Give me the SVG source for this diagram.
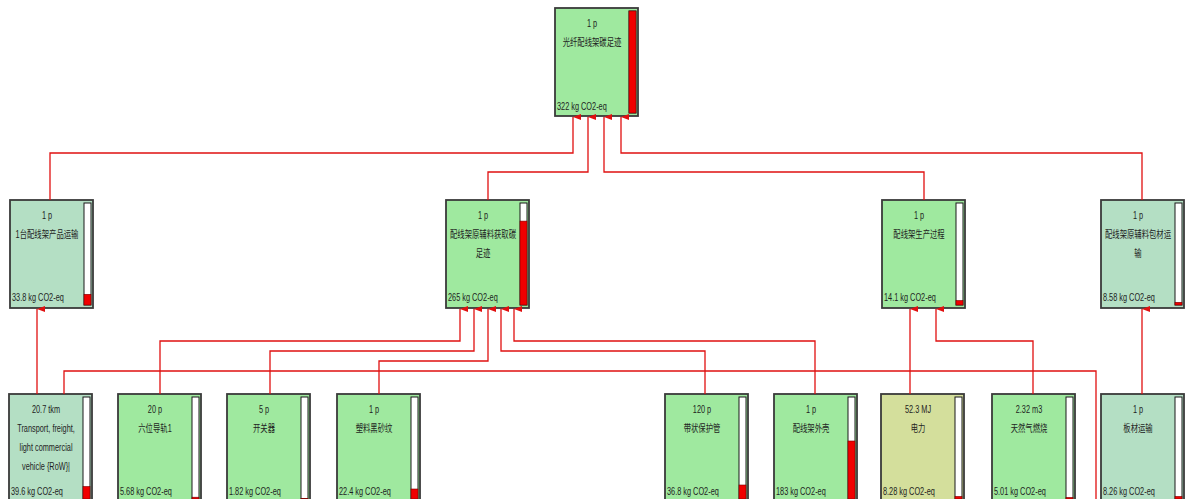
<svg xmlns="http://www.w3.org/2000/svg" width="1185" height="499" viewBox="0 0 1185 499">
<style>
.box{stroke:#3a3a3a;stroke-width:1.8}
.g1{fill:#9fe99f}
.g2{fill:#b4dfc4}
.g3{fill:#d4df9c}
.bar{fill:#ffffff;stroke:#1a1a1a;stroke-width:1}
.red{fill:#f00000;stroke:#7a0000;stroke-width:0.6}
text{font-family:"Liberation Sans","Noto Sans CJK SC",sans-serif;font-size:10.5px;fill:#1e1e1e}
.c{text-anchor:middle}
.conn{fill:none;stroke:#e01010;stroke-width:1.3}
</style>
<defs>
<marker id="arr" markerUnits="userSpaceOnUse" markerWidth="6" markerHeight="8" viewBox="0 0 6 8" refX="3" refY="0" orient="auto-start-reverse">
<path d="M0,8 L3,0 L6,8 Z" fill="#e01010"/>
</marker>
</defs>
<rect width="1185" height="499" fill="#ffffff"/>

<g id="node-top">
<rect class="box g1" x="555" y="8" width="83" height="108"/>
<rect class="bar" x="629" y="11" width="7" height="102"/>
<rect class="red" x="629" y="11" width="7" height="102"/>
<text class="c" transform="translate(592,27) scale(0.7,1)">1 p</text>
<text class="c" transform="translate(592,46) scale(0.7,1)">光纤配线架碳足迹</text>
<text transform="translate(557,110) scale(0.7,1)">322 kg CO2-eq</text>
</g>

<g id="node-transport-product">
<rect class="box g2" x="10" y="200" width="83" height="108"/>
<rect class="bar" x="84" y="203" width="7" height="102"/>
<rect class="red" x="84" y="294.3" width="7" height="10.7"/>
<text class="c" transform="translate(47,219) scale(0.7,1)">1 p</text>
<text class="c" transform="translate(47,238) scale(0.7,1)">1台配线架产品运输</text>
<text transform="translate(12,301) scale(0.7,1)">33.8 kg CO2-eq</text>
</g>

<g id="node-raw-material">
<rect class="box g1" x="446" y="200" width="83" height="108"/>
<rect class="bar" x="520" y="203" width="7" height="102"/>
<rect class="red" x="520" y="221.1" width="7" height="83.9"/>
<text class="c" transform="translate(483,219) scale(0.7,1)">1 p</text>
<text class="c" transform="translate(483,238) scale(0.7,1)">配线架原辅料获取碳</text>
<text class="c" transform="translate(483,257) scale(0.7,1)">足迹</text>
<text transform="translate(448,301) scale(0.7,1)">265 kg CO2-eq</text>
</g>

<g id="node-production">
<rect class="box g1" x="882" y="200" width="83" height="108"/>
<rect class="bar" x="956" y="203" width="7" height="102"/>
<rect class="red" x="956" y="300.5" width="7" height="4.5"/>
<text class="c" transform="translate(919,219) scale(0.7,1)">1 p</text>
<text class="c" transform="translate(919,238) scale(0.7,1)">配线架生产过程</text>
<text transform="translate(884,301) scale(0.7,1)">14.1 kg CO2-eq</text>
</g>

<g id="node-packaging-transport">
<rect class="box g2" x="1101" y="200" width="83" height="108"/>
<rect class="bar" x="1175" y="203" width="7" height="102"/>
<rect class="red" x="1175" y="302.3" width="7" height="2.7"/>
<text class="c" transform="translate(1138,219) scale(0.7,1)">1 p</text>
<text class="c" transform="translate(1138,238) scale(0.7,1)">配线架原辅料包材运</text>
<text class="c" transform="translate(1138,257) scale(0.7,1)">输</text>
<text transform="translate(1103,301) scale(0.7,1)">8.58 kg CO2-eq</text>
</g>

<g id="node-transport-freight">
<rect class="box g2" x="9" y="394" width="83" height="108"/>
<rect class="bar" x="83" y="397" width="7" height="102"/>
<rect class="red" x="83" y="486.5" width="7" height="12.5"/>
<text class="c" transform="translate(46,413) scale(0.7,1)">20.7 tkm</text>
<text class="c" transform="translate(46,432) scale(0.7,1)">Transport, freight,</text>
<text class="c" transform="translate(46,451) scale(0.7,1)">light commercial</text>
<text class="c" transform="translate(46,470) scale(0.7,1)">vehicle {RoW}|</text>
<text transform="translate(11,495) scale(0.7,1)">39.6 kg CO2-eq</text>
</g>

<g id="node-rail">
<rect class="box g1" x="118" y="394" width="83" height="108"/>
<rect class="bar" x="192" y="397" width="7" height="102"/>
<rect class="red" x="192" y="497.2" width="7" height="1.8"/>
<text class="c" transform="translate(155,413) scale(0.7,1)">20 p</text>
<text class="c" transform="translate(155,432) scale(0.7,1)">六位导轨1</text>
<text transform="translate(120,495) scale(0.7,1)">5.68 kg CO2-eq</text>
</g>

<g id="node-switch">
<rect class="box g1" x="227" y="394" width="83" height="108"/>
<rect class="bar" x="301" y="397" width="7" height="102"/>
<rect class="red" x="301" y="498.4" width="7" height="0.6"/>
<text class="c" transform="translate(264,413) scale(0.7,1)">5 p</text>
<text class="c" transform="translate(264,432) scale(0.7,1)">开关器</text>
<text transform="translate(229,495) scale(0.7,1)">1.82 kg CO2-eq</text>
</g>

<g id="node-plastic">
<rect class="box g1" x="337" y="394" width="83" height="108"/>
<rect class="bar" x="411" y="397" width="7" height="102"/>
<rect class="red" x="411" y="489" width="7" height="10"/>
<text class="c" transform="translate(374,413) scale(0.7,1)">1 p</text>
<text class="c" transform="translate(374,432) scale(0.7,1)">塑料黑砂纹</text>
<text transform="translate(339,495) scale(0.7,1)">22.4 kg CO2-eq</text>
</g>

<g id="node-tube">
<rect class="box g1" x="665" y="394" width="83" height="108"/>
<rect class="bar" x="739" y="397" width="7" height="102"/>
<rect class="red" x="739" y="485" width="7" height="14"/>
<text class="c" transform="translate(702,413) scale(0.7,1)">120 p</text>
<text class="c" transform="translate(702,432) scale(0.7,1)">带状保护管</text>
<text transform="translate(667,495) scale(0.7,1)">36.8 kg CO2-eq</text>
</g>

<g id="node-shell">
<rect class="box g1" x="774" y="394" width="83" height="108"/>
<rect class="bar" x="848" y="397" width="7" height="102"/>
<rect class="red" x="848" y="441" width="7" height="58"/>
<text class="c" transform="translate(811,413) scale(0.7,1)">1 p</text>
<text class="c" transform="translate(811,432) scale(0.7,1)">配线架外壳</text>
<text transform="translate(776,495) scale(0.7,1)">183 kg CO2-eq</text>
</g>

<g id="node-electricity">
<rect class="box g3" x="881" y="394" width="83" height="108"/>
<rect class="bar" x="955" y="397" width="7" height="102"/>
<rect class="red" x="955" y="496.4" width="7" height="2.6"/>
<text class="c" transform="translate(918,413) scale(0.7,1)">52.3 MJ</text>
<text class="c" transform="translate(918,432) scale(0.7,1)">电力</text>
<text transform="translate(883,495) scale(0.7,1)">8.28 kg CO2-eq</text>
</g>

<g id="node-gas">
<rect class="box g1" x="992" y="394" width="83" height="108"/>
<rect class="bar" x="1066" y="397" width="7" height="102"/>
<rect class="red" x="1066" y="497.4" width="7" height="1.6"/>
<text class="c" transform="translate(1029,413) scale(0.7,1)">2.32 m3</text>
<text class="c" transform="translate(1029,432) scale(0.7,1)">天然气燃烧</text>
<text transform="translate(994,495) scale(0.7,1)">5.01 kg CO2-eq</text>
</g>

<g id="node-board-transport">
<rect class="box g2" x="1101" y="394" width="83" height="108"/>
<rect class="bar" x="1175" y="397" width="7" height="102"/>
<rect class="red" x="1175" y="496.4" width="7" height="2.6"/>
<text class="c" transform="translate(1138,413) scale(0.7,1)">1 p</text>
<text class="c" transform="translate(1138,432) scale(0.7,1)">板材运输</text>
<text transform="translate(1103,495) scale(0.7,1)">8.26 kg CO2-eq</text>
</g>

<g id="connectors">
<path class="conn" marker-end="url(#arr)" d="M50,200 V153 H573 V117"/>
<path class="conn" marker-end="url(#arr)" d="M488,200 V172 H588 V117"/>
<path class="conn" marker-end="url(#arr)" d="M924,200 V172 H604 V117"/>
<path class="conn" marker-end="url(#arr)" d="M1142,200 V153 H621 V117"/>
<path class="conn" marker-end="url(#arr)" d="M37,394 V309"/>
<path class="conn" marker-end="url(#arr)" d="M160,394 V341 H460 V309"/>
<path class="conn" marker-end="url(#arr)" d="M270,394 V351 H474 V309"/>
<path class="conn" marker-end="url(#arr)" d="M379,394 V361 H488 V309"/>
<path class="conn" marker-end="url(#arr)" d="M705,394 V351 H501 V309"/>
<path class="conn" marker-end="url(#arr)" d="M815,394 V341 H514 V309"/>
<path class="conn" marker-end="url(#arr)" d="M910,394 V309"/>
<path class="conn" marker-end="url(#arr)" d="M1033,394 V341 H936 V309"/>
<path class="conn" marker-end="url(#arr)" d="M1142,394 V309"/>
<path class="conn" d="M64,394 V371 H1096 V499"/>
</g>
</svg>
